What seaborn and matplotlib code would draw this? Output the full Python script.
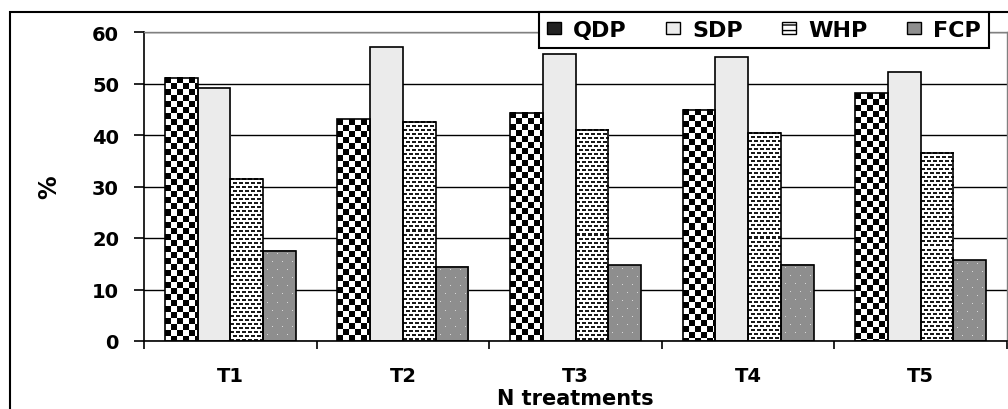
import matplotlib
matplotlib.use("Agg")
import matplotlib.pyplot as plt
import numpy as np
import pandas as pd
import seaborn as sns
from matplotlib.patches import Patch, Rectangle

treatments = ["T1", "T2", "T3", "T4", "T5"]
series = ["QDP", "SDP", "WHP", "FCP"]
qdp = [51.1, 43.1, 44.3, 44.9, 48.1]
sdp = [49.2, 57.0, 55.7, 55.1, 52.3]
whp = [31.5, 42.6, 41.0, 40.4, 36.6]
fcp = [17.5, 14.4, 14.7, 14.8, 15.7]
yticks = [0, 10, 20, 30, 40, 50, 60]

df = pd.DataFrame(
    {
        "treatment": treatments * len(series),
        "series": np.repeat(series, len(treatments)),
        "value": qdp + sdp + whp + fcp,
    }
)

sns.set_style("white")
plt.rcParams["font.family"] = ["DejaVu Sans"]
plt.rcParams["font.weight"] = "bold"
plt.rcParams["text.color"] = "black"
plt.rcParams["axes.labelcolor"] = "black"
plt.rcParams["xtick.color"] = "black"
plt.rcParams["ytick.color"] = "black"

colors = {"QDP": "#555555", "SDP": "#ececec", "WHP": "#bbbbbb", "FCP": "#8e8e8e"}

fig = plt.figure(figsize=(10.08, 4.10), dpi=100)
ax = fig.add_axes([144 / 1008, 1 - 342 / 410, (1007 - 144) / 1008, (342 - 33) / 410])

sns.barplot(
    data=df, x="treatment", y="value", hue="series", hue_order=series,
    palette=colors, width=0.76, edgecolor="black", linewidth=1.2,
    legend=False, ax=ax, zorder=2,
)
ax.set_xlim(-0.5, 4.5)
ax.set_ylim(0, 60)


# pixel textures for the patterned bars
def texture(kind, h, w):
    yy, xx = np.indices((h, w))
    img = np.ones((h, w, 3))
    if kind == "QDP":
        on = ((yy // 6 + xx // 6) % 2) == 0
        img[on] = 0.0
    elif kind == "SDP":
        img[:] = 0.925
    elif kind == "WHP":
        off = np.where((yy // 4) % 2 == 1, 3, 0)
        on = ((yy % 4) < 2) & (((xx + off) % 6) < 4)
        img[on] = 0.1
    elif kind == "FCP":
        img[:] = 0.56
        off = np.where((yy // 8) % 2 == 1, 5, 0)
        on = ((yy % 8) == 3) & (((xx + off) % 10) == 4)
        img[on] = 0.85
    return img


for i, name in enumerate(series):
    for j in range(len(treatments)):
        bar = ax.patches[i * len(treatments) + j]
        x0, y0 = bar.get_x(), bar.get_y()
        w, h = bar.get_width(), bar.get_height()
        p0 = ax.transData.transform((x0, y0))
        p1 = ax.transData.transform((x0 + w, y0 + h))
        npx_w = max(int(round(p1[0] - p0[0])), 1)
        npx_h = max(int(round(p1[1] - p0[1])), 1)
        ax.imshow(
            texture(name, npx_h, npx_w), extent=(x0, x0 + w, y0, y0 + h),
            origin="upper", interpolation="nearest", aspect="auto", zorder=1.5,
        )
        bar.set_facecolor("none")

ax.set_xlim(-0.5, 4.5)
ax.set_ylim(0, 60)

ax.yaxis.grid(True, color="black", linewidth=1)
ax.set_axisbelow(True)
for side in ["top", "right"]:
    ax.spines[side].set_color("#808080")
    ax.spines[side].set_linewidth(1)
for side in ["left", "bottom"]:
    ax.spines[side].set_color("black")
    ax.spines[side].set_linewidth(1.2)

ax.set_yticks(yticks)
ax.tick_params(axis="y", length=7, width=1.2, pad=11, labelsize=14, left=True)
ax.set_xticks(range(len(treatments)))
ax.set_xticklabels(treatments)
ax.set_xticks([k - 0.5 for k in range(len(treatments) + 1)], minor=True)
ax.tick_params(axis="x", which="major", length=0, pad=18, labelsize=14)
ax.tick_params(axis="x", which="minor", length=6, width=1.2, direction="out", bottom=True)

ax.set_xlabel("N treatments", fontsize=15, fontweight="bold", labelpad=2)
ax.set_ylabel("%", fontsize=17, fontweight="bold", labelpad=22)

handles = [
    Patch(facecolor="#222222", edgecolor="black"),
    Patch(facecolor="#ececec", edgecolor="black"),
    Patch(facecolor="white", edgecolor="black", hatch="---"),
    Patch(facecolor="#8e8e8e", edgecolor="black"),
]
leg = fig.legend(
    handles, series, loc="upper right", bbox_to_anchor=(989 / 1008, 1 - 13 / 410),
    ncol=4, frameon=True, fancybox=False, edgecolor="black", framealpha=1,
    borderaxespad=0, handlelength=0.65, handleheight=0.5, handletextpad=0.55,
    columnspacing=1.75, borderpad=0.35, prop={"weight": "bold", "size": 16},
)
leg.get_frame().set_linewidth(1.5)

fig.add_artist(
    Rectangle((10 / 1008, -0.05), 1.2, 1 - 13 / 410 + 0.05, transform=fig.transFigure,
              fill=False, edgecolor="black", linewidth=1.5, zorder=0)
)

fig.savefig("out.png", dpi=100)
